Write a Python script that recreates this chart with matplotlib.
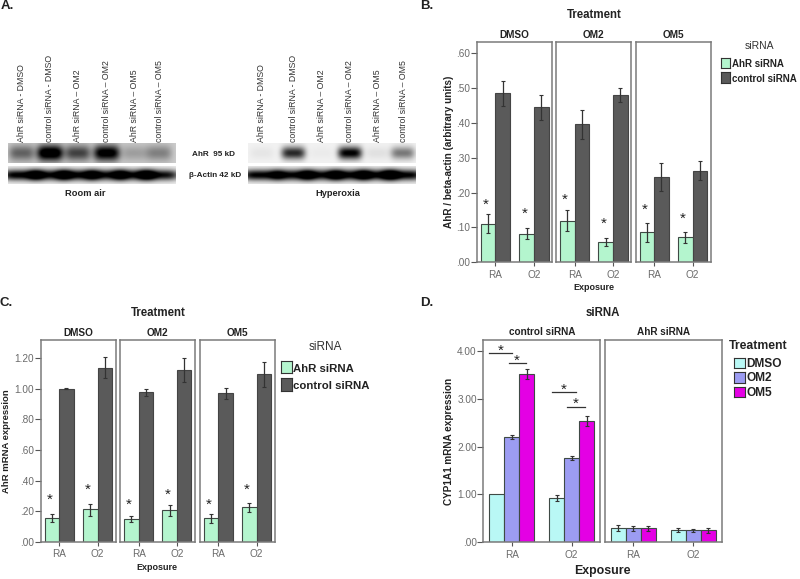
import numpy as np
import matplotlib
matplotlib.use("Agg")
import matplotlib.pyplot as plt

plt.rcParams['font.family'] = ['Liberation Sans', 'DejaVu Sans']

W, H = 800, 579
fig = plt.figure(figsize=(8.0, 5.79), dpi=100, facecolor='white')

# ---------- data ----------
exposure = ['RA', 'O2']
treatments = ['DMSO', 'OM2', 'OM5']
sirna = ['AhR siRNA', 'control siRNA']
lane_labels = ['AhR siRNA - DMSO', 'control siRNA - DMSO', 'AhR siRNA \u2013 OM2',
               'control siRNA \u2013 OM2', 'AhR siRNA \u2013 OM5', 'control siRNA \u2013 OM5']

# Panel A: band density per lane
room_ahr = [0.42, 1.00, 0.55, 0.90, 0.18, 0.30]
room_actin = [1.00, 0.95, 1.00, 0.95, 0.92, 0.92]
hyper_ahr = [0.05, 0.80, 0.03, 0.98, 0.07, 0.48]
hyper_actin = [0.98, 0.98, 0.96, 1.00, 0.96, 0.98]

# Panel B: [treatment][exposure]
b_ahr = [[.111, .082], [.119, .059], [.086, .072]]
b_ahr_hi = [[.138, .098], [.149, .069], [.112, .086]]
b_ahr_lo = [[.084, .066], [.089, .048], [.059, .056]]
b_ctl = [[.486, .446], [.396, .480], [.246, .263]]
b_ctl_hi = [[.520, .480], [.437, .500], [.284, .291]]
b_ctl_lo = [[.449, .410], [.353, .461], [.206, .235]]
b_star = [[.173, .147], [.187, .120], [.160, .133]]
b_ticks = [0, .1, .2, .3, .4, .5, .6]
b_ticklabels = ['.00', '.10', '.20', '.30', '.40', '.50', '.60']

# Panel C
c_ahr = [[.155, .212], [.151, .205], [.153, .225]]
c_ahr_hi = [[.179, .244], [.168, .238], [.179, .253]]
c_ahr_lo = [[.131, .170], [.131, .170], [.124, .192]]
c_ctl = [[1.0, 1.139], [.980, 1.126], [.971, 1.095]]
c_ctl_hi = [[1.003, 1.209], [1.000, 1.202], [1.008, 1.174]]
c_ctl_lo = [[.997, 1.069], [.956, 1.043], [.934, 1.015]]
c_star = [[.295, .360], [.262, .327], [.262, .360]]
c_ticks = [0, .2, .4, .6, .8, 1.0, 1.2]
c_ticklabels = ['.00', '.20', '.40', '.60', '.80', '1.00', '1.20']

# Panel D: [siRNA][exposure][treatment]
d_vals = [[[1.0, 2.195, 3.526], [.934, 1.77, 2.537]],
          [[.29, .29, .295], [.25, .258, .25]]]
d_hi = [[[1.0, 2.24, 3.62], [.98, 1.81, 2.63]],
        [[.355, .35, .345], [.29, .285, .30]]]
d_lo = [[[1.0, 2.15, 3.41], [.87, 1.72, 2.43]],
        [[.23, .23, .245], [.21, .225, .20]]]
d_panels = ['control siRNA', 'AhR siRNA']
d_ticks = [0, 1, 2, 3, 4]
d_ticklabels = ['.00', '1.00', '2.00', '3.00', '4.00']
d_sig_x0 = [-.372, -.05, .678, .928]
d_sig_x1 = [.011, .239, 1.067, 1.222]
d_sig_y = [3.95, 3.74, 3.136, 2.83]

# ---------- styles ----------
C_AHR = '#B4F5CE'
C_CTL = '#5A5A5A'
C_EDGE = '#3F4A45'
C_FRAME = '#7A7A7A'
C_TICK = '#6A6A6A'
C_TXT = '#222222'
D_COL = ['#B9F8F5', '#9C9CF2', '#E400E4']


def T(x, y, s, **k):
    k.setdefault('ha', 'center')
    k.setdefault('va', 'center')
    k.setdefault('color', C_TXT)
    return fig.text(x / W, 1 - y / H, s, **k)


def AX(l, t, r, b):
    return fig.add_axes([l / W, 1 - b / H, (r - l) / W, (b - t) / H])


def box(l, t, r, b, fc):
    a = AX(l, t, r, b)
    a.set_facecolor(fc)
    a.set_xticks([])
    a.set_yticks([])
    for s in a.spines.values():
        s.set_color('#333333')
        s.set_linewidth(0.8)


def style(ax, first, top, xlim, ticks=None, labels=None):
    ax.set_xlim(*xlim)
    ax.set_ylim(0, top)
    for s in ax.spines.values():
        s.set_color(C_FRAME)
        s.set_linewidth(1.1)
    ax.set_xticks([0, 1])
    ax.set_xticklabels(exposure, fontsize=7.2, color=C_TICK)
    ax.tick_params(axis='x', length=3, width=0.8, color='#555555', pad=2.5)
    if first:
        ax.set_yticks(ticks)
        ax.set_yticklabels(labels, fontsize=7.2, color=C_TICK)
        ax.tick_params(axis='y', length=4.5, width=.8, color='#555555', pad=0.2)
    else:
        ax.set_yticks([])


def err(ax, x, lo, hi):
    ax.errorbar(x, (lo + hi) / 2, yerr=(hi - lo) / 2, color='#333333', lw=0.9,
                capsize=1.5, capthick=0.8, zorder=5)


# ---------- Panel A ----------
def blot(l, t, r, b, density, lanes, bg, sx, sy):
    nx, ny = int((r - l) * 2), int((b - t) * 2)
    xs = np.linspace(l, r, nx)
    ys = np.linspace(t, b, ny)
    X, Y = np.meshgrid(xs, ys)
    img = np.full(X.shape, float(bg))
    yc = (t + b) / 2
    for lane, d in zip(lanes, density):
        img += d * np.exp(-((X - lane) / sx) ** 4 - ((Y - yc) / sy) ** 2)
    ax = AX(l, t, r, b)
    ax.imshow(np.clip(img, 0, 1), cmap='gray_r', vmin=0, vmax=1, aspect='auto',
              extent=[l, r, b, t], interpolation='bilinear')
    ax.axis('off')


room_lanes = [21.7, 50, 77.7, 106.7, 134.3, 159]
hyper_lanes = [261.7, 293.3, 321.7, 350, 377.7, 403]
blot(8, 143, 176, 163, room_ahr, room_lanes, .2, 13, 8)
blot(8, 166, 176, 184, room_actin, room_lanes, .05, 20, 5.5)
blot(248, 143, 416, 163, hyper_ahr, hyper_lanes, .05, 12, 6.5)
blot(248, 166, 416, 184, hyper_actin, hyper_lanes, .05, 20, 5.5)
for xs_ in (room_lanes, hyper_lanes):
    for x, lab in zip(xs_, lane_labels):
        T(x, 142, lab, rotation=90, va='bottom', fontsize=6.3, color='#333333')
T(214, 154, 'AhR  95 kD', fontsize=5.9, fontweight='bold')
T(215, 175.7, '\u03b2-Actin 42 kD', fontsize=5.9, fontweight='bold')
T(85.7, 194, 'Room air', fontsize=6.7, fontweight='bold')
T(338, 194, 'Hyperoxia', fontsize=6.7, fontweight='bold')
T(1, 6, 'A.', ha='left', fontsize=9.5, fontweight='bold')

# ---------- Panel B ----------
b_frames = [(476.7, 552.3), (556, 631.3), (635.7, 710.7)]
for i, (l, r) in enumerate(b_frames):
    ax = AX(l, 42.3, r, 262.3)
    for j in range(2):
        ax.bar(j - .19, b_ahr[i][j], .38, color=C_AHR, edgecolor=C_EDGE, lw=.8)
        ax.bar(j + .19, b_ctl[i][j], .38, color=C_CTL, edgecolor='#444444', lw=.8)
        err(ax, j - .19, b_ahr_lo[i][j], b_ahr_hi[i][j])
        err(ax, j + .19, b_ctl_lo[i][j], b_ctl_hi[i][j])
        ax.text(j - .25, b_star[i][j] - .008, '*', ha='center', va='center',
                fontsize=11, color=C_TXT)
    style(ax, i == 0, .632, (-.483, 1.474), b_ticks, b_ticklabels)
    T((l + r) / 2, 34.7, treatments[i], fontsize=7.2, fontweight='bold')
T(594, 14.7, 'Treatment', fontsize=8.3, fontweight='bold')
T(449, 152, 'AhR / beta-actin (arbitrary units)', rotation=90, fontsize=7.2, fontweight='bold')
T(594, 288, 'Exposure', fontsize=6.5, fontweight='bold')
T(427, 6, 'B.', fontsize=9.5, fontweight='bold')
T(759, 46, 'siRNA', fontsize=7.5, color='#333333')
box(720.7, 57.7, 730, 68, C_AHR)
box(720.7, 71.7, 730, 82.5, C_CTL)
T(731.7, 64.3, sirna[0], ha='left', fontsize=7.0, fontweight='bold')
T(731.7, 78.7, sirna[1], ha='left', fontsize=7.0, fontweight='bold')

# ---------- Panel C ----------
c_frames = [(40.7, 115.7), (120.3, 195), (200, 274.7)]
for i, (l, r) in enumerate(c_frames):
    ax = AX(l, 340.3, r, 541.7)
    for j in range(2):
        ax.bar(j - .19, c_ahr[i][j], .38, color=C_AHR, edgecolor=C_EDGE, lw=.8)
        ax.bar(j + .19, c_ctl[i][j], .38, color=C_CTL, edgecolor='#444444', lw=.8)
        err(ax, j - .19, c_ahr_lo[i][j], c_ahr_hi[i][j])
        err(ax, j + .19, c_ctl_lo[i][j], c_ctl_hi[i][j])
        ax.text(j - .25, c_star[i][j] - .018, '*', ha='center', va='center',
                fontsize=11, color=C_TXT)
    style(ax, i == 0, 1.318, (-.483, 1.474), c_ticks, c_ticklabels)
    T((l + r) / 2, 332.7, treatments[i], fontsize=7.2, fontweight='bold')
T(158, 312.7, 'Treatment', fontsize=8.3, fontweight='bold')
T(6.5, 440.7, 'AhR mRNA expression', rotation=90, fontsize=6.8, fontweight='bold')
T(157, 568, 'Exposure', fontsize=6.5, fontweight='bold')
T(6, 302.7, 'C.', fontsize=9.5, fontweight='bold')
T(325.7, 346.7, 'siRNA', fontsize=8.5, color='#333333')
box(281, 360.7, 291.7, 372.7, C_AHR)
box(281, 378.3, 291.7, 390.7, C_CTL)
T(293.3, 369, sirna[0], ha='left', fontsize=8.2, fontweight='bold')
T(293.3, 385.7, sirna[1], ha='left', fontsize=8.2, fontweight='bold')

# ---------- Panel D ----------
d_frames = [(483.3, 600.3), (605, 721.7)]
for i, (l, r) in enumerate(d_frames):
    ax = AX(l, 340.3, r, 542.3)
    for j in range(2):
        for k in range(3):
            x = j + (k - 1) * .25
            ax.bar(x, d_vals[i][j][k], .25, color=D_COL[k], edgecolor=C_EDGE, lw=.8)
            if d_hi[i][j][k] > d_lo[i][j][k]:
                err(ax, x, d_lo[i][j][k], d_hi[i][j][k])
    style(ax, i == 0, 4.22, (-.472, 1.478), d_ticks, d_ticklabels)
    if i == 0:
        for x0, x1, y in zip(d_sig_x0, d_sig_x1, d_sig_y):
            ax.plot([x0, x1], [y, y], color='#333333', lw=.9)
            ax.text(x0 + (x1 - x0) * .48, y + .06, '*', ha='center', va='center',
                    fontsize=11, color=C_TXT)
    T((l + r) / 2, 332.3, d_panels[i], fontsize=7.2, fontweight='bold')
T(602.7, 312.7, 'siRNA', fontsize=8.3, fontweight='bold')
T(449, 441, 'CYP1A1 mRNA expression', rotation=90, fontsize=7.2, fontweight='bold')
T(602.3, 570.7, 'Exposure', fontsize=8.9, fontweight='bold')
T(427, 303, 'D.', fontsize=9.5, fontweight='bold')
T(758.3, 346, 'Treatment', fontsize=8.8, fontweight='bold')
for k, (t_, b_, y_) in enumerate([(358.3, 368.3, 364), (372.3, 382.7, 378), (386.7, 397.3, 392.7)]):
    box(734, t_, 744.7, b_, D_COL[k])
    T(746.7, y_, treatments[k], ha='left', fontsize=8.6, fontweight='bold')

fig.savefig('out.png', dpi=100, facecolor='white')
